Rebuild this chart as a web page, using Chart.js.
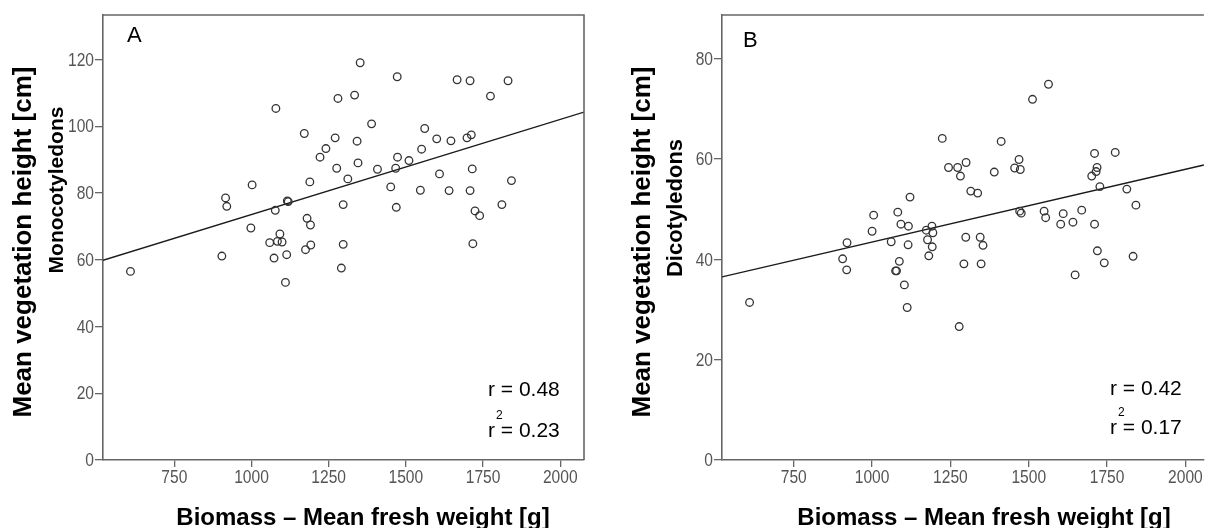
<!DOCTYPE html>
<html><head><meta charset="utf-8">
<script src="https://cdn.jsdelivr.net/npm/chart.js@4.4.1/dist/chart.umd.min.js"></script>
<style>
html,body{margin:0;padding:0;background:#fff;width:1209px;height:528px;overflow:hidden;}
#wa{position:absolute;left:0;top:0;width:600px;height:528px;}
#wb{position:absolute;left:619px;top:0;width:590px;height:528px;}
</style></head><body>
<div id="wa"><canvas id="ca" width="600" height="528"></canvas></div>
<div id="wb"><canvas id="cb" width="590" height="528"></canvas></div>
<script>
// ---- data ----
const xTicks = [750, 1000, 1250, 1500, 1750, 2000];
const yTicksA = [0, 20, 40, 60, 80, 100, 120];
const yTicksB = [0, 20, 40, 60, 80];

const biomassA = [608,904,916,920,1002,998,1079,1077,1059,1084,1092,1099,1073,1114,1110,1116,1119,1171,1180,1175,1191,1192,1189,1222,1241,1271,1280,1276,1312,1297,1297,1291,1334,1352,1342,1345,1389,1408,1451,1472,1473,1467,1469,1510,1551,1561,1547,1600,1609,1640,1646,1666,1708,1698,1712,1715,1708,1724,1739,1717,1774,1811,1831,1842];
const heightMono = [56.5,61.1,78.5,76.0,82.4,69.5,105.3,74.8,65.1,65.5,67.7,65.3,60.5,61.5,53.2,77.6,77.4,97.8,72.4,63.0,70.4,64.4,83.3,90.7,93.3,96.5,108.3,87.4,84.2,76.5,64.6,57.5,109.3,119.0,95.5,89.0,100.7,87.1,81.8,114.8,90.7,87.4,75.7,89.7,93.1,99.3,80.8,96.2,85.7,80.7,95.6,113.9,113.6,96.5,97.4,87.2,80.7,74.6,73.2,64.8,109.0,76.5,113.6,83.7];

const biomassB = [609,906,919,920,1000,1005,1061,1082,1092,1087,1075,1078,1103,1112,1116,1115,1121,1173,1177,1181,1191,1194,1192,1224,1244,1273,1282,1278,1299,1293,1300,1315,1337,1345,1354,1348,1390,1412,1455,1469,1473,1471,1476,1512,1563,1549,1554,1602,1610,1641,1648,1669,1710,1701,1715,1718,1727,1710,1719,1741,1776,1813,1833,1842];
const heightDico = [31.4,40.1,37.9,43.3,45.6,48.8,43.5,49.4,47.0,39.6,37.7,37.7,34.9,30.4,46.6,42.9,52.4,45.8,43.9,40.7,46.6,45.3,42.5,64.1,58.3,58.3,56.6,26.6,44.4,39.1,59.3,53.6,53.2,44.4,42.8,39.1,57.4,63.5,58.2,59.9,57.9,49.6,49.2,71.9,74.9,49.6,48.3,47.0,49.1,47.4,36.9,49.8,61.1,56.6,57.5,58.3,54.5,47.0,41.7,39.3,61.3,54.0,40.6,50.8];

// fitted regression lines
const fitA = {intercept: 45.07, slope: 0.02847};
const fitB = {intercept: 28.95, slope: 0.0145};
const statsA = {r: '0.48', r2: '0.23'};
const statsB = {r: '0.42', r2: '0.17'};

const xTitle = 'Biomass \u2013 Mean fresh weight [g]';
const yTitle1 = 'Mean vegetation height [cm]';

// ---- drawing ----
const baseFont = "'Liberation Sans',Arial,sans-serif";
const frameColor = '#666';

function rotText(ctx, txt, x, y) {
  ctx.save();
  ctx.translate(x, y);
  ctx.rotate(-Math.PI / 2);
  ctx.fillText(txt, 0, 0);
  ctx.restore();
}

const annot = {
  id: 'annot',
  afterDraw(chart, args, o) {
    const ctx = chart.ctx, a = chart.chartArea;
    const xs = chart.scales.x, ys = chart.scales.y;
    ctx.save();
    // frame (top, and right where visible)
    ctx.strokeStyle = frameColor; ctx.lineWidth = 1.6;
    ctx.beginPath();
    ctx.moveTo(a.left, a.top); ctx.lineTo(a.right, a.top);
    if (o.frameRight) { ctx.lineTo(a.right, a.bottom); }
    ctx.stroke();
    // tick labels (narrow face)
    ctx.fillStyle = '#555';
    ctx.font = '19px ' + baseFont;
    ctx.textBaseline = 'middle';
    ctx.textAlign = 'center';
    xTicks.forEach(v => {
      ctx.save();
      ctx.translate(xs.getPixelForValue(v), a.bottom + 17.5);
      ctx.scale(0.82, 1);
      ctx.fillText(String(v), 0, 0);
      ctx.restore();
    });
    ctx.textAlign = 'right';
    o.yTicks.forEach(v => {
      ctx.save();
      ctx.translate(a.left - 9, ys.getPixelForValue(v) + 1);
      ctx.scale(0.82, 1);
      ctx.fillText(String(v), 0, 0);
      ctx.restore();
    });
    // panel letter
    ctx.fillStyle = '#000';
    ctx.font = '22px ' + baseFont;
    ctx.textAlign = 'left'; ctx.textBaseline = 'alphabetic';
    ctx.fillText(o.letter, a.left + o.letterDx, o.letterY);
    // statistics
    ctx.font = '21px ' + baseFont;
    ctx.textBaseline = 'middle';
    const sx = a.left + o.statDx;
    ctx.fillText('r = ' + o.stats.r, sx, o.statY1);
    ctx.fillText('r = ' + o.stats.r2, sx, o.statY2);
    const rw = ctx.measureText('r').width;
    ctx.font = '12px ' + baseFont;
    ctx.fillText('2', sx + rw + 1, o.statY2 - 15);
    // axis titles
    ctx.textAlign = 'center';
    ctx.font = 'bold 24px ' + baseFont;
    ctx.fillText(xTitle, o.xTitleX, 518);
    ctx.font = 'bold 26px ' + baseFont;
    rotText(ctx, yTitle1, 24, o.yTitle1Y);
    ctx.font = 'bold ' + o.yTitle2Size + 'px ' + baseFont;
    rotText(ctx, o.yTitle2, 57, o.yTitle2Y);
    ctx.restore();
  }
};

function buildChart(id, o) {
  const pts = o.xs.map((x, i) => ({x: x, y: o.ys[i]}));
  const fit = [o.xMin, o.xMax].map(x => ({x: x, y: o.fit.intercept + o.fit.slope * x}));
  return new Chart(document.getElementById(id), {
    type: 'scatter',
    data: {datasets: [
      {data: pts, pointRadius: 3.8, pointHoverRadius: 3.8, pointBorderWidth: 1.3,
       borderColor: '#333', backgroundColor: 'rgba(255,255,255,0)'},
      {type: 'line', data: fit, borderColor: '#1a1a1a', borderWidth: 1.4, pointRadius: 0, fill: false, tension: 0}
    ]},
    options: {
      responsive: false, animation: false, devicePixelRatio: 1,
      layout: {padding: {top: 15, right: o.padRight, left: 0, bottom: 0}},
      plugins: {legend: {display: false}, tooltip: {enabled: false}, annot: o.annot},
      scales: {
        x: {type: 'linear', min: o.xMin, max: o.xMax,
            afterFit(s) { s.height = 68; },
            afterBuildTicks(s) { s.ticks = xTicks.map(v => ({value: v})); },
            grid: {display: true, drawOnChartArea: false, drawTicks: true, tickLength: 7, color: frameColor, lineWidth: 1.3},
            border: {display: true, color: frameColor, width: 1.6},
            ticks: {display: false}},
        y: {type: 'linear', min: 0, max: o.yMax,
            afterFit(s) { s.width = 103; },
            afterBuildTicks(s) { s.ticks = o.yTicks.map(v => ({value: v})); },
            grid: {display: true, drawOnChartArea: false, drawTicks: true, tickLength: 8, color: frameColor, lineWidth: 1.3},
            border: {display: true, color: frameColor, width: 1.6},
            ticks: {display: false}}
      }
    },
    plugins: [annot]
  });
}

buildChart('ca', {
  xs: biomassA, ys: heightMono, fit: fitA, xMin: 519, xMax: 2077, yMax: 133.3, yTicks: yTicksA, padRight: 16,
  annot: {yTicks: yTicksA, frameRight: true, letter: 'A', letterDx: 24, letterY: 42, stats: statsA, statDx: 385, statY1: 390, statY2: 431,
          xTitleX: 363, yTitle1Y: 242, yTitle2: 'Monocotyledons', yTitle2Y: 190, yTitle2Size: 21}
});
buildChart('cb', {
  xs: biomassB, ys: heightDico, fit: fitB, xMin: 521, xMax: 2059, yMax: 88.7, yTicks: yTicksB, padRight: 0,
  annot: {yTicks: yTicksB, frameRight: false, letter: 'B', letterDx: 21, letterY: 47, stats: statsB, statDx: 388, statY1: 389, statY2: 428,
          xTitleX: 365, yTitle1Y: 242, yTitle2: 'Dicotyledons', yTitle2Y: 208, yTitle2Size: 22}
});
</script>
</body></html>
